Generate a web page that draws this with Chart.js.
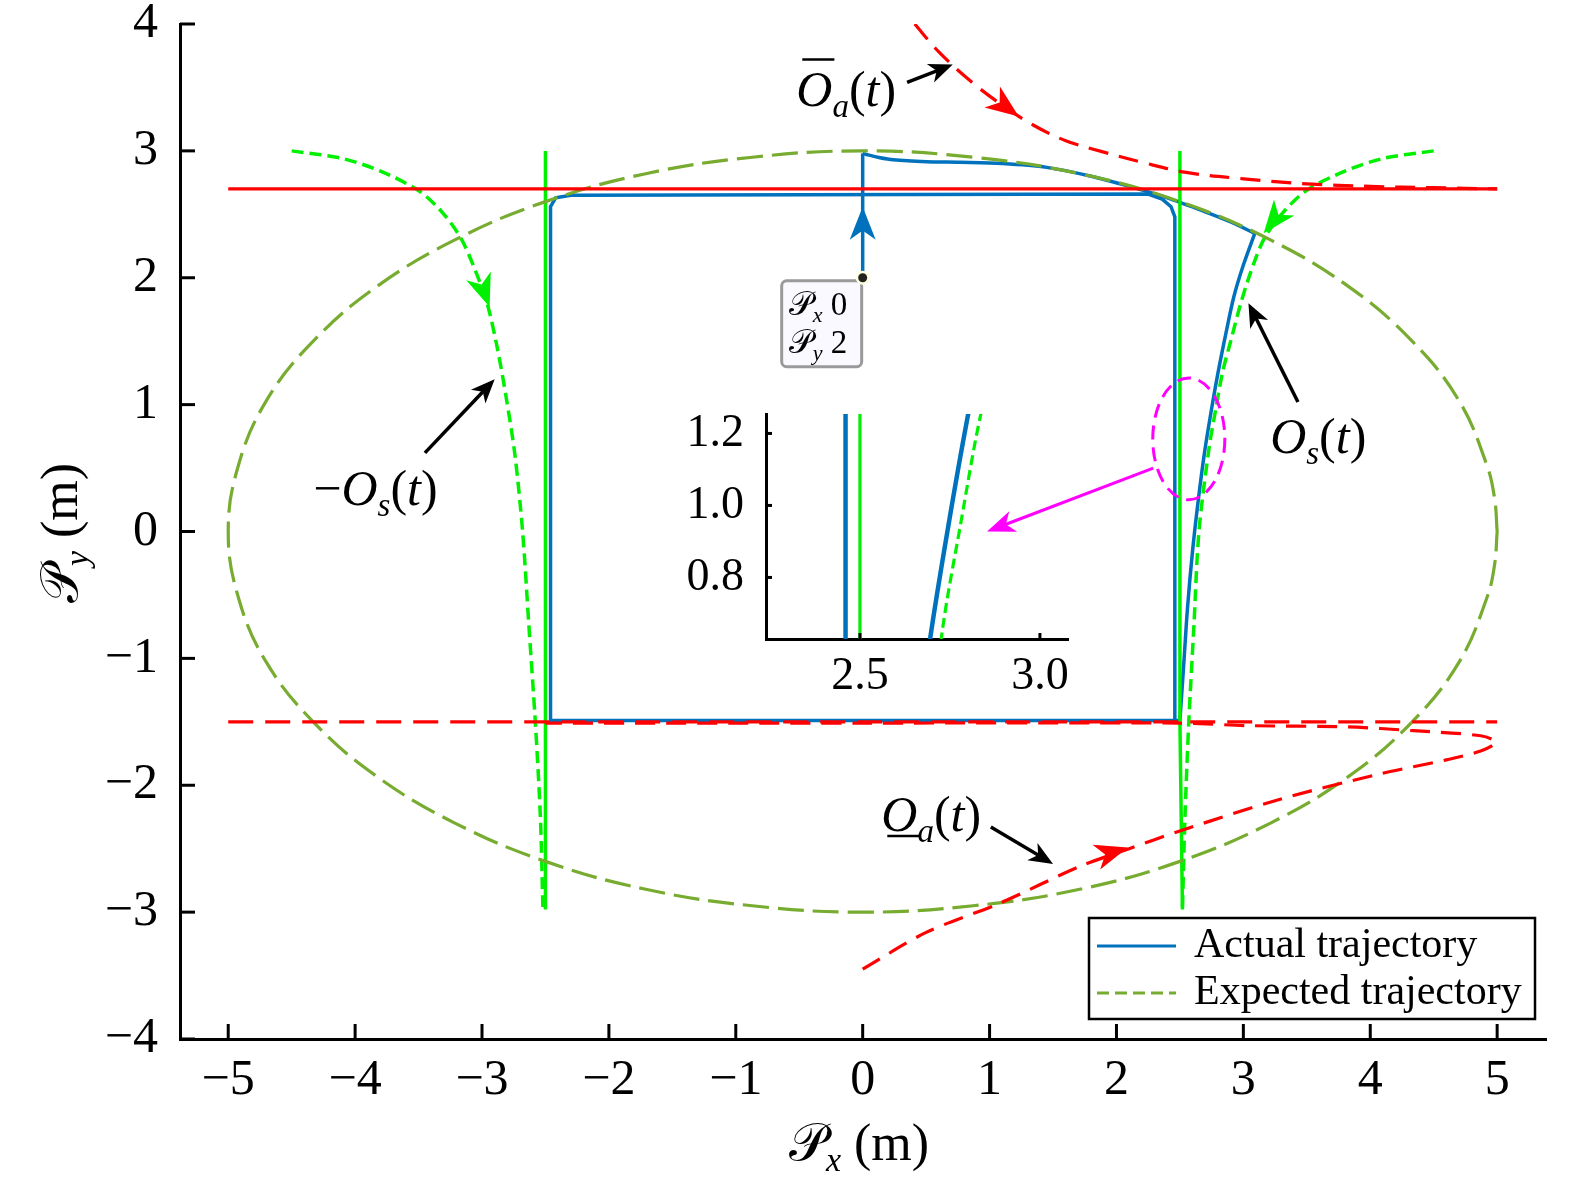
<!DOCTYPE html>
<html>
<head>
<meta charset="utf-8">
<script src="https://cdn.jsdelivr.net/npm/chart.js@4.4.1/dist/chart.umd.min.js"></script>
<style>
html, body { margin: 0; padding: 0; background: #fff; }
#wrap { position: relative; width: 1575px; height: 1192px; }
#main { position: absolute; left: 0; top: 0; }
#inset { position: absolute; left: 640px; top: 390px; }
</style>
</head>
<body>
<div id="wrap">
<canvas id="main" width="1575" height="1192"></canvas>
<canvas id="inset" width="450" height="320"></canvas>
</div>
<script>
// tick values
const xTicks = [-5, -4, -3, -2, -1, 0, 1, 2, 3, 4, 5];
const yTicks = [-4, -3, -2, -1, 0, 1, 2, 3, 4];
const insetXTicks = [2.5, 3.0];
const insetYTicks = [0.8, 1.0, 1.2];

// expected trajectory (ellipse)
const ellipseX = [5.00, 4.98, 4.92, 4.70, 4.33, 3.83, 3.21, 2.50, 1.71, 0.87, 0.00, -0.87, -1.71, -2.50, -3.21, -3.83, -4.33, -4.70, -4.92, -5.00,
                  -4.92, -4.70, -4.33, -3.83, -3.21, -2.50, -1.71, -0.87, 0.00, 0.87, 1.71, 2.50, 3.21, 3.83, 4.33, 4.70, 4.92, 4.98, 5.00];
const ellipseY = [0.00, 0.26, 0.52, 1.03, 1.50, 1.93, 2.30, 2.60, 2.82, 2.95, 3.00, 2.95, 2.82, 2.60, 2.30, 1.93, 1.50, 1.03, 0.52, 0.00,
                  -0.52, -1.03, -1.50, -1.93, -2.30, -2.60, -2.82, -2.95, -3.00, -2.95, -2.82, -2.60, -2.30, -1.93, -1.50, -1.03, -0.52, -0.26, 0.00];

// actual trajectory
const riseX = [0, 0];
const riseY = [2.0, 2.98];
const topX = [0, 0.035, 0.12, 0.24, 0.5, 0.77, 1.1, 1.45, 1.8, 2.1, 2.4, 2.7, 2.9, 3.09];
const topY = [2.98, 2.97, 2.95, 2.93, 2.915, 2.91, 2.9, 2.87, 2.8, 2.72, 2.63, 2.52, 2.44, 2.35];
const rightX = [3.09, 3.0, 2.925, 2.86, 2.80, 2.745, 2.695, 2.645, 2.6, 2.56, 2.53, 2.5];
const rightY = [2.35, 2.1, 1.85, 1.55, 1.25, 0.94, 0.63, 0.25, -0.15, -0.6, -1.05, -1.49];
const rectX = [2.5, -2.46, -2.46, -2.42, -2.3, 2.25, 2.36, 2.43, 2.46, 2.46];
const rectY = [-1.49, -1.49, 2.56, 2.63, 2.65, 2.66, 2.62, 2.56, 2.48, -1.49];

// constraint lines
const redTopX = [-5, 5];
const redTopY = [2.7, 2.7];
const redBotX = [-5, 5];
const redBotY = [-1.5, -1.5];
const upperOaX = [0.41, 0.6, 0.85, 1.1, 1.35, 1.6, 1.9, 2.2, 2.55, 3.0, 3.5, 4.0, 4.5, 5.0];
const upperOaY = [4.0, 3.78, 3.55, 3.36, 3.2, 3.08, 2.99, 2.91, 2.83, 2.78, 2.74, 2.72, 2.71, 2.7];
const lowerOaX = [0, 0.5, 1.08, 1.71, 2.1, 2.5, 3.29, 4.08, 4.6, 4.87, 4.99, 4.87, 4.34, 3.82, 3.03, 2.5, 0, -2.5];
const lowerOaY = [-3.45, -3.16, -2.93, -2.64, -2.5, -2.36, -2.11, -1.91, -1.8, -1.73, -1.66, -1.61, -1.57, -1.54, -1.53, -1.51, -1.51, -1.51];

// O_s(t) and -O_s(t)
const osRightX = [4.5, 4.1, 3.8, 3.5, 3.3, 3.16, 3.06, 2.98, 2.9, 2.835, 2.78, 2.73, 2.65, 2.61, 2.57, 2.54, 2.52];
const osRightY = [3.0, 2.94, 2.84, 2.69, 2.5, 2.3, 2.05, 1.8, 1.5, 1.25, 0.95, 0.66, 0.0, -0.75, -1.5, -2.25, -2.97];
const osLeftX = [-4.5, -4.1, -3.8, -3.49, -3.3, -3.16, -3.05, -2.96, -2.88, -2.81, -2.74, -2.68, -2.63, -2.58, -2.54, -2.52];
const osLeftY = [3.0, 2.94, 2.84, 2.68, 2.5, 2.3, 2.05, 1.8, 1.45, 1.06, 0.6, 0.0, -0.75, -1.5, -2.25, -2.97];
const greenRX = [2.5, 2.5, 2.52];
const greenRY = [3.0, -1.5, -2.98];
const greenLX = [-2.5, -2.5, -2.5];
const greenLY = [3.0, -1.5, -2.98];

const BLUE = "#0072BD", OLIVE = "#77AC30", RED = "#FF0000", GREEN = "#00F000", MAGENTA = "#FF00FF";
const FAM = "'Liberation Serif', 'Times New Roman', serif";
const SCRIPT_P = String.fromCodePoint(0x1D4AB);

function pts(xs, ys) {
    return xs.map(function (v, i) { return { x: v, y: ys[i] }; });
}

function line(xs, ys, color, width, dash, tension) {
    return {
        data: pts(xs, ys),
        showLine: true,
        borderColor: color,
        borderWidth: width,
        borderDash: dash || [],
        tension: tension || 0,
        pointRadius: 0,
        fill: false,
    };
}

function tickText(v) {
    return v < 0 ? "\u2212" + Math.abs(v) : String(v);
}

// draws text made of roman / italic / subscript pieces
function drawMath(ctx, parts, x, y, size, align) {
    var fontFor = function (p) {
        return (p.i ? "italic " : "") + Math.round(p.sub ? size * 0.66 : size) + "px " + FAM;
    };
    var total = 0;
    var ws = parts.map(function (p) {
        ctx.font = fontFor(p);
        var w = ctx.measureText(p.t).width + (p.gap || 0);
        total += w;
        return w;
    });
    var cx = align === "left" ? x : x - total / 2;
    ctx.textAlign = "left";
    ctx.textBaseline = "alphabetic";
    ctx.fillStyle = "#000";
    parts.forEach(function (p, i) {
        ctx.font = fontFor(p);
        ctx.fillText(p.t, cx, p.sub ? y + size * 0.22 : y);
        if (p.bar || p.ubar) {
            var ly = p.bar ? y - size * 0.94 : y + size * 0.1;
            ctx.beginPath();
            ctx.lineWidth = size * 0.05;
            ctx.strokeStyle = "#000";
            ctx.moveTo(cx + size * 0.12, ly);
            ctx.lineTo(cx + ws[i] + size * 0.04, ly);
            ctx.stroke();
        }
        cx += ws[i];
    });
}

function arrowHead(ctx, tx, ty, ang, len, half, color) {
    var c = Math.cos(ang), s = Math.sin(ang);
    var bx = tx - c * len, by = ty - s * len;
    var nx = -s, ny = c;
    ctx.beginPath();
    ctx.moveTo(tx, ty);
    ctx.lineTo(bx + nx * half, by + ny * half);
    ctx.lineTo(tx - c * len * 0.72, ty - s * len * 0.72);
    ctx.lineTo(bx - nx * half, by - ny * half);
    ctx.closePath();
    ctx.fillStyle = color;
    ctx.fill();
}

function arrow(ctx, x1, y1, x2, y2, color, lw, len, half) {
    var ang = Math.atan2(y2 - y1, x2 - x1);
    ctx.beginPath();
    ctx.setLineDash([]);
    ctx.strokeStyle = color;
    ctx.lineWidth = lw;
    ctx.moveTo(x1, y1);
    ctx.lineTo(x2 - Math.cos(ang) * len * 0.6, y2 - Math.sin(ang) * len * 0.6);
    ctx.stroke();
    arrowHead(ctx, x2, y2, ang, len, half, color);
}

function inwardTicks(chart, xs, ys, len) {
    var ctx = chart.ctx, a = chart.chartArea;
    var sx = chart.scales.x, sy = chart.scales.y;
    ctx.save();
    ctx.strokeStyle = "#000";
    ctx.lineWidth = 3;
    ctx.setLineDash([]);
    xs.forEach(function (v) {
        var p = sx.getPixelForValue(v);
        ctx.beginPath();
        ctx.moveTo(p, a.bottom);
        ctx.lineTo(p, a.bottom - len);
        ctx.stroke();
    });
    ys.forEach(function (v) {
        var p = sy.getPixelForValue(v);
        ctx.beginPath();
        ctx.moveTo(a.left, p);
        ctx.lineTo(a.left + len, p);
        ctx.stroke();
    });
    ctx.restore();
}

var O = function (extra) { return Object.assign({ t: "O", i: true }, extra || {}); };
var labels = [
    { x: -0.13, y: 3.35, parts: [O({ bar: true }), { t: "a", i: true, sub: true }, { t: "(" }, { t: "t", i: true }, { t: ")" }] },
    { x: 3.59, y: 0.62, parts: [O(), { t: "s", i: true, sub: true }, { t: "(" }, { t: "t", i: true }, { t: ")" }] },
    { x: -3.84, y: 0.21, parts: [{ t: "\u2212" }, O(), { t: "s", i: true, sub: true }, { t: "(" }, { t: "t", i: true }, { t: ")" }] },
    { x: 0.54, y: -2.36, parts: [O({ ubar: true }), { t: "a", i: true, sub: true }, { t: "(" }, { t: "t", i: true }, { t: ")" }] },
];
// black pointer arrows: tail -> tip
var pointers = [
    [0.35, 3.54, 0.71, 3.68],
    [3.43, 1.02, 3.04, 1.80],
    [-3.45, 0.62, -2.90, 1.20],
    [1.01, -2.33, 1.50, -2.62],
];
// direction heads on curves: back point -> tip
var heads = [
    [0, 2.30, 0, 2.56, BLUE],
    [-3.04, 2.05, -2.94, 1.77, GREEN],
    [3.35, 2.59, 3.16, 2.35, GREEN],
    [1.0, 3.44, 1.23, 3.27, RED],
    [1.83, -2.57, 2.09, -2.49, RED],
];

const decor = {
    id: "decor",
    afterDatasetsDraw: function (chart) {
        var ctx = chart.ctx, a = chart.chartArea;
        var sx = chart.scales.x, sy = chart.scales.y;
        var px = function (v) { return sx.getPixelForValue(v); };
        var py = function (v) { return sy.getPixelForValue(v); };
        ctx.save();

        heads.forEach(function (h) {
            var ang = Math.atan2(py(h[3]) - py(h[1]), px(h[2]) - px(h[0]));
            arrowHead(ctx, px(h[2]), py(h[3]), ang, 33, 13, h[4]);
        });

        pointers.forEach(function (p) {
            arrow(ctx, px(p[0]), py(p[1]), px(p[2]), py(p[3]), "#000", 3.5, 24, 10);
        });

        // magenta zoom marker
        ctx.beginPath();
        ctx.setLineDash([14, 8]);
        ctx.strokeStyle = MAGENTA;
        ctx.lineWidth = 3;
        ctx.ellipse(px(2.57), py(0.73), px(2.57 + 0.284) - px(2.57), py(0.73) - py(0.73 + 0.48), 0, 0, Math.PI * 2);
        ctx.stroke();
        arrow(ctx, px(2.29), py(0.5), px(0.98), py(0.0), MAGENTA, 3, 28, 11);

        labels.forEach(function (l) {
            drawMath(ctx, l.parts, px(l.x), py(l.y), 50, "center");
        });

        // data tip at start point
        var dx = px(0), dy = py(2);
        ctx.setLineDash([]);
        ctx.beginPath();
        ctx.roundRect(dx - 81, dy + 3, 80, 86, 5);
        ctx.fillStyle = "#f9f9ff";
        ctx.fill();
        ctx.strokeStyle = "#9a9a9a";
        ctx.lineWidth = 3;
        ctx.stroke();
        ctx.beginPath();
        ctx.arc(dx, dy, 7, 0, Math.PI * 2);
        ctx.fillStyle = "#ffffe0";
        ctx.fill();
        ctx.beginPath();
        ctx.arc(dx, dy, 4.5, 0, Math.PI * 2);
        ctx.fillStyle = "#222";
        ctx.fill();
        drawMath(ctx, [{ t: SCRIPT_P }, { t: "x", i: true, sub: true }, { t: " 0" }], dx - 74, dy + 37, 33, "left");
        drawMath(ctx, [{ t: SCRIPT_P }, { t: "y", i: true, sub: true }, { t: " 2" }], dx - 74, dy + 75, 33, "left");

        // legend
        var lx = a.right - 457, ly = a.bottom - 121;
        ctx.fillStyle = "#fff";
        ctx.fillRect(lx, ly, 446, 101);
        ctx.strokeStyle = "#000";
        ctx.lineWidth = 2.5;
        ctx.strokeRect(lx, ly, 446, 101);
        ctx.beginPath();
        ctx.strokeStyle = BLUE;
        ctx.lineWidth = 3;
        ctx.moveTo(lx + 8, ly + 28);
        ctx.lineTo(lx + 87, ly + 28);
        ctx.stroke();
        ctx.beginPath();
        ctx.setLineDash([12, 6]);
        ctx.strokeStyle = OLIVE;
        ctx.moveTo(lx + 8, ly + 75);
        ctx.lineTo(lx + 87, ly + 75);
        ctx.stroke();
        ctx.setLineDash([]);
        ctx.fillStyle = "#000";
        ctx.font = "42px " + FAM;
        ctx.textAlign = "left";
        ctx.textBaseline = "middle";
        ctx.fillText("Actual trajectory", lx + 105, ly + 28);
        ctx.fillText("Expected trajectory", lx + 105, ly + 75);
        ctx.restore();
    },
    afterDraw: function (chart) {
        var ctx = chart.ctx, a = chart.chartArea;
        inwardTicks(chart, xTicks, yTicks, 15);
        ctx.save();
        drawMath(ctx, [{ t: SCRIPT_P }, { t: "x", i: true, sub: true }, { t: " (m)" }], (a.left + a.right) / 2 - 4, 1160, 52, "center");
        ctx.translate(77, 533);
        ctx.rotate(-Math.PI / 2);
        drawMath(ctx, [{ t: SCRIPT_P }, { t: "y", i: true, sub: true }, { t: " (m)" }], 0, 0, 52, "center");
        ctx.restore();
    },
};

function axis(min, max, ticks, size, pad, fmt, fit) {
    return {
        type: "linear",
        min: min,
        max: max,
        afterBuildTicks: function (s) {
            s.ticks = ticks.map(function (v) { return { value: v }; });
        },
        afterFit: fit,
        ticks: {
            autoSkip: false,
            maxRotation: 0,
            padding: pad,
            color: "#000",
            font: { family: FAM, size: size },
            callback: fmt,
        },
        grid: { display: true, drawOnChartArea: false, drawTicks: false },
        border: { display: true, color: "#000", width: 3 },
    };
}

new Chart(document.getElementById("main").getContext("2d"), {
    type: "scatter",
    data: {
        datasets: [
            line(redTopX, redTopY, RED, 3.2),
            line(redBotX, redBotY, RED, 3.2, [25, 12]),
            line(upperOaX, upperOaY, RED, 3.2, [20, 11], 0.35),
            line(lowerOaX, lowerOaY, RED, 3.2, [20, 11], 0.3),
            line(ellipseX, ellipseY, OLIVE, 3.2, [26, 9], 0.4),
            line(osLeftX, osLeftY, GREEN, 3.5, [12, 6], 0.3),
            line(osRightX, osRightY, GREEN, 3.5, [12, 6], 0.3),
            line(greenLX, greenLY, GREEN, 3.5),
            line(greenRX, greenRY, GREEN, 3.5),
            line(riseX, riseY, BLUE, 3.5),
            line(topX, topY, BLUE, 3.5, [], 0.3),
            line(rightX, rightY, BLUE, 3.5, [], 0.3),
            line(rectX, rectY, BLUE, 3.5),
        ],
    },
    options: {
        responsive: false,
        animation: false,
        devicePixelRatio: 1,
        events: [],
        layout: { padding: { left: 0, top: 24, right: 29, bottom: 0 } },
        plugins: { legend: { display: false }, tooltip: { enabled: false } },
        scales: {
            x: axis(-5.38, 5.385, xTicks, 50, 12, tickText, function (s) {
                s.height = 153; s.paddingLeft = 0; s.paddingRight = 0;
            }),
            y: axis(-4, 4, yTicks, 50, 22, tickText, function (s) {
                s.width = 180; s.paddingTop = 0; s.paddingBottom = 0;
            }),
        },
    },
    plugins: [decor],
});

// zoomed inset
const insetTicks = {
    id: "insetTicks",
    afterDraw: function (chart) {
        inwardTicks(chart, insetXTicks, insetYTicks, 6);
    },
};

new Chart(document.getElementById("inset").getContext("2d"), {
    type: "scatter",
    data: {
        datasets: [
            line(osRightX, osRightY, GREEN, 3.2, [10, 5], 0.3),
            line(greenRX, greenRY, GREEN, 3.2),
            line(rightX, rightY, BLUE, 4.5, [], 0.3),
            line(rectX, rectY, BLUE, 4.5),
        ],
    },
    options: {
        responsive: false,
        animation: false,
        devicePixelRatio: 1,
        events: [],
        layout: { padding: { left: 0, top: 24, right: 22, bottom: 0 } },
        plugins: { legend: { display: false }, tooltip: { enabled: false } },
        scales: {
            x: axis(2.239, 3.078, insetXTicks, 46, 10, function (v) { return v.toFixed(1); }, function (s) {
                s.height = 71; s.paddingLeft = 0; s.paddingRight = 0;
            }),
            y: axis(0.629, 1.254, insetYTicks, 46, 22, function (v) { return v.toFixed(1); }, function (s) {
                s.width = 126; s.paddingTop = 0; s.paddingBottom = 0;
            }),
        },
    },
    plugins: [insetTicks],
});
</script>
</body>
</html>
